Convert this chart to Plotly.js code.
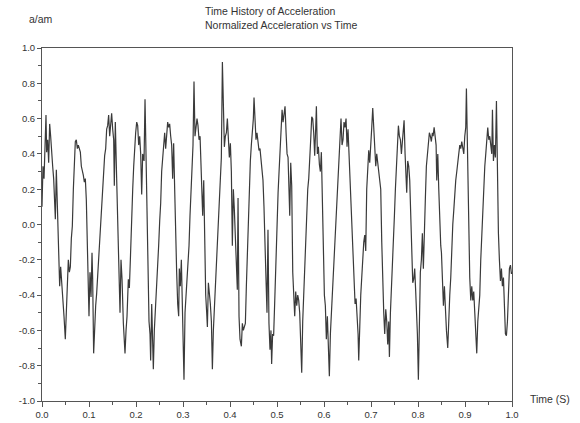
<!DOCTYPE html>
<html>
<head>
<meta charset="utf-8">
<script src="https://cdn.plot.ly/plotly-3.0.1.min.js"></script>
<style>html,body{margin:0;padding:0;background:#fff;}#chart{width:580px;height:423px;}</style>
</head>
<body>
<div id="chart"></div>
<script>
// Time (s) and normalized acceleration a/am in six stretches
const t1 = [0.0000,0.0021,0.0043,0.0064,0.0085,0.0099,0.0121,0.0142,0.0163,0.0184,0.0206,0.0227,0.0248,0.0270,0.0284,0.0305,0.0330,0.0355,0.0376,0.0397,0.0418,0.0440,0.0468,0.0496,0.0518,0.0539,0.0560,0.0582,0.0603,0.0624,0.0645,0.0667,0.0688,0.0709,0.0730,0.0752,0.0773,0.0794,0.0816,0.0837,0.0858,0.0879,0.0901,0.0922,0.0943,0.0965,0.0986,0.1000,0.1021,0.1043,0.1064,0.1078,0.1099,0.1121,0.1142,0.1163,0.1184,0.1206,0.1227,0.1248,0.1270,0.1291,0.1312,0.1333,0.1355,0.1376,0.1397,0.1418,0.1440,0.1461,0.1482,0.1504,0.1525,0.1539,0.1560,0.1582,0.1603,0.1624,0.1645];
const a1 = [0.10,0.33,0.26,0.48,0.62,0.41,0.48,0.35,0.57,0.50,0.39,0.33,0.26,0.11,0.03,0.31,0.03,-0.24,-0.35,-0.24,-0.31,-0.43,-0.52,-0.65,-0.46,-0.31,-0.20,-0.27,-0.24,-0.08,-0.01,0.20,0.33,0.47,0.48,0.43,0.45,0.43,0.41,0.33,0.31,0.28,0.24,0.26,0.14,-0.08,-0.31,-0.52,-0.27,-0.41,-0.16,-0.31,-0.73,-0.56,-0.46,-0.39,-0.29,-0.24,-0.12,-0.03,0.12,0.20,0.33,0.39,0.43,0.54,0.56,0.62,0.50,0.57,0.63,0.54,0.48,0.22,0.58,0.33,0.11,-0.12,-0.27];

const t2 = [0.1660,0.1681,0.1703,0.1731,0.1766,0.1788,0.1809,0.1837,0.1859,0.1880,0.1908,0.1930,0.1951,0.1972,0.1993,0.2015,0.2036,0.2057,0.2078,0.2100,0.2121,0.2142,0.2171,0.2192,0.2213,0.2234,0.2256,0.2277,0.2298,0.2312,0.2334,0.2355,0.2369,0.2390,0.2411,0.2440,0.2461,0.2482,0.2504,0.2525,0.2546,0.2567,0.2589,0.2610,0.2631,0.2653,0.2674,0.2695,0.2716,0.2738,0.2759,0.2780,0.2801,0.2823,0.2844,0.2865,0.2887,0.2908,0.2922,0.2943,0.2965,0.2986,0.3007,0.3021,0.3043,0.3064,0.3085,0.3106,0.3128,0.3149,0.3170,0.3191,0.3213,0.3234,0.3255,0.3277,0.3298,0.3319];
const a2 = [-0.50,-0.20,-0.31,-0.56,-0.73,-0.60,-0.52,-0.31,-0.36,-0.20,0.10,0.20,0.33,0.44,0.52,0.58,0.56,0.45,0.50,0.40,0.17,0.40,0.36,0.71,0.37,-0.10,-0.33,-0.55,-0.62,-0.77,-0.45,-0.62,-0.82,-0.60,-0.50,-0.33,-0.25,-0.12,0.02,0.12,0.30,0.37,0.48,0.52,0.43,0.54,0.58,0.55,0.57,0.50,0.45,0.26,0.46,0.20,-0.10,-0.27,-0.45,-0.52,-0.25,-0.35,-0.20,-0.50,-0.70,-0.88,-0.50,-0.40,-0.32,-0.25,-0.12,0.05,0.20,0.33,0.45,0.81,0.50,0.55,0.60,0.56];

const t3 = [0.3341,0.3363,0.3384,0.3405,0.3419,0.3441,0.3462,0.3483,0.3504,0.3519,0.3540,0.3561,0.3582,0.3604,0.3625,0.3646,0.3667,0.3689,0.3710,0.3731,0.3753,0.3774,0.3795,0.3816,0.3838,0.3859,0.3880,0.3901,0.3923,0.3944,0.3965,0.3986,0.4008,0.4029,0.4050,0.4071,0.4093,0.4114,0.4135,0.4156,0.4171,0.4192,0.4213,0.4242,0.4263,0.4284,0.4305,0.4327,0.4348,0.4369,0.4390,0.4412,0.4433,0.4454,0.4475,0.4497,0.4511,0.4532,0.4553,0.4574,0.4596,0.4617,0.4638,0.4659,0.4681,0.4702,0.4723,0.4744,0.4766,0.4787,0.4808,0.4829,0.4851,0.4872,0.4886,0.4907,0.4928,0.4950,0.4971];
const a3 = [0.48,0.50,0.35,0.22,0.05,0.25,-0.24,-0.40,-0.50,-0.58,-0.33,-0.38,-0.45,-0.55,-0.82,-0.60,-0.48,-0.33,-0.20,-0.08,-0.02,0.10,0.22,0.38,0.92,0.67,0.44,0.50,0.52,0.60,0.48,0.38,0.46,0.30,-0.12,0.20,0.08,-0.05,-0.16,-0.37,0.15,-0.52,-0.65,-0.69,-0.56,-0.60,-0.58,-0.56,-0.35,-0.15,0.05,0.28,0.36,0.45,0.52,0.60,0.72,0.55,0.48,0.52,0.45,0.42,0.43,0.38,0.30,0.25,0.10,-0.05,-0.31,-0.50,-0.03,-0.56,-0.71,-0.60,-0.79,-0.62,-0.63,-0.45,-0.27];

const t4 = [0.4980,0.5001,0.5023,0.5044,0.5065,0.5086,0.5108,0.5129,0.5150,0.5171,0.5193,0.5214,0.5235,0.5257,0.5271,0.5292,0.5313,0.5335,0.5356,0.5377,0.5398,0.5420,0.5441,0.5462,0.5483,0.5505,0.5526,0.5547,0.5568,0.5590,0.5611,0.5632,0.5654,0.5675,0.5696,0.5717,0.5739,0.5760,0.5781,0.5802,0.5824,0.5838,0.5859,0.5880,0.5902,0.5923,0.5944,0.5965,0.5987,0.6008,0.6029,0.6050,0.6072,0.6093,0.6114,0.6136,0.6157,0.6178,0.6199,0.6221,0.6242,0.6263,0.6284,0.6306,0.6327,0.6348,0.6362,0.6384,0.6405,0.6426,0.6447,0.6469,0.6490,0.6511,0.6532,0.6554,0.6575,0.6596,0.6617,0.6639];
const a4 = [-0.10,0.00,0.18,0.30,0.40,0.48,0.65,0.58,0.62,0.67,0.52,0.40,0.38,0.18,0.05,0.35,0.22,-0.27,-0.40,-0.52,-0.38,-0.46,-0.40,-0.43,-0.50,-0.69,-0.84,-0.55,-0.40,-0.18,-0.05,0.08,0.20,0.26,0.35,0.48,0.61,0.60,0.52,0.39,0.55,0.67,0.40,0.44,0.34,0.30,0.41,0.10,-0.20,-0.40,-0.46,-0.65,-0.52,-0.65,-0.86,-0.62,-0.50,-0.42,-0.28,-0.12,0.00,0.12,0.24,0.32,0.43,0.52,0.60,0.45,0.48,0.58,0.55,0.60,0.44,0.54,0.40,0.33,0.10,-0.05,-0.20,-0.33];

const t5 = [0.6661,0.6683,0.6704,0.6725,0.6739,0.6761,0.6782,0.6803,0.6824,0.6846,0.6867,0.6888,0.6909,0.6931,0.6952,0.6973,0.6995,0.7016,0.7037,0.7058,0.7080,0.7101,0.7122,0.7143,0.7165,0.7186,0.7207,0.7229,0.7250,0.7271,0.7292,0.7314,0.7335,0.7356,0.7377,0.7392,0.7413,0.7434,0.7455,0.7477,0.7498,0.7519,0.7540,0.7562,0.7583,0.7604,0.7626,0.7647,0.7668,0.7689,0.7704,0.7725,0.7746,0.7760,0.7781,0.7803,0.7824,0.7845,0.7866,0.7888,0.7909,0.7930,0.7951,0.7973,0.7987,0.8008,0.8029,0.8050,0.8072,0.8093,0.8114,0.8135,0.8157,0.8178,0.8199,0.8220,0.8242,0.8263,0.8284,0.8306];
const a5 = [-0.45,-0.42,-0.50,-0.62,-0.77,-0.55,-0.40,-0.30,-0.18,-0.10,-0.06,-0.15,0.20,0.36,0.42,0.35,0.50,0.55,0.66,0.52,0.45,0.33,0.40,0.35,0.30,0.26,0.20,-0.10,-0.35,-0.50,-0.62,-0.48,-0.55,-0.68,-0.55,-0.75,-0.50,-0.38,-0.25,-0.10,0.05,0.20,0.33,0.48,0.56,0.50,0.48,0.40,0.46,0.55,0.59,0.40,0.30,0.18,0.36,0.33,0.25,0.00,-0.25,-0.33,-0.31,-0.25,-0.38,-0.52,-0.62,-0.88,-0.50,-0.27,-0.20,-0.05,-0.25,-0.10,0.15,0.33,0.40,0.45,0.52,0.50,0.47,0.52];

const t6 = [0.8321,0.8343,0.8364,0.8385,0.8399,0.8421,0.8442,0.8463,0.8484,0.8499,0.8520,0.8541,0.8562,0.8584,0.8605,0.8633,0.8655,0.8676,0.8697,0.8718,0.8740,0.8761,0.8782,0.8803,0.8825,0.8846,0.8867,0.8889,0.8910,0.8931,0.8952,0.8974,0.8995,0.9016,0.9030,0.9052,0.9066,0.9080,0.9101,0.9123,0.9144,0.9165,0.9186,0.9208,0.9229,0.9250,0.9272,0.9293,0.9314,0.9335,0.9357,0.9378,0.9399,0.9421,0.9442,0.9463,0.9484,0.9506,0.9527,0.9548,0.9570,0.9584,0.9605,0.9626,0.9647,0.9669,0.9690,0.9711,0.9732,0.9754,0.9775,0.9796,0.9818,0.9839,0.9860,0.9881,0.9903,0.9924,0.9945,0.9967,0.9988,1.0000];
const a6 = [0.50,0.55,0.48,0.45,0.25,0.40,0.20,0.00,-0.12,-0.16,-0.35,-0.46,-0.35,-0.50,-0.60,-0.70,-0.50,-0.40,-0.30,-0.12,0.00,0.08,0.18,0.25,0.30,0.38,0.40,0.45,0.43,0.47,0.42,0.40,0.50,0.55,0.77,0.48,0.20,-0.10,-0.30,-0.43,-0.35,-0.43,-0.38,-0.50,-0.60,-0.73,-0.55,-0.45,-0.40,-0.20,-0.05,0.05,0.20,0.33,0.40,0.50,0.55,0.48,0.50,0.45,0.40,0.65,0.36,0.45,0.38,0.70,0.28,-0.05,-0.20,-0.32,-0.25,-0.35,-0.30,-0.45,-0.62,-0.63,-0.55,-0.40,-0.25,-0.23,-0.28,-0.27];

const yTickVals = [-1.0,-0.8,-0.6,-0.4,-0.2,0.0,0.2,0.4,0.6,0.8,1.0];
const yTickText = ["-1.0","-0.8","-0.6","-0.4","-0.2","0.0","0.2","0.4","0.6","0.8","1.0"];
const xTickVals = [0.0,0.1,0.2,0.3,0.4,0.5,0.6,0.7,0.8,0.9,1.0];
const xTickText = ["0.0","0.1","0.2","0.3","0.4","0.5","0.6","0.7","0.8","0.9","1.0"];

const time = [].concat(t1,t2,t3,t4,t5,t6);
const accel = [].concat(a1,a2,a3,a4,a5,a6);

const font = {family: "Liberation Sans, Arial, sans-serif", size: 9.5, color: "#333"};
const titleFont = {family: "Liberation Sans, Arial, sans-serif", size: 10.5, color: "#333"};

const trace = {
  x: time, y: accel, type: "scatter", mode: "lines",
  line: {color: "#3a3a3a", width: 1.2}, hoverinfo: "skip"
};

const axisCommon = {
  showline: true, linecolor: "#555", linewidth: 1, mirror: true,
  showgrid: false, zeroline: false, ticks: "outside", ticklen: 5,
  tickcolor: "#555", tickwidth: 1, tickfont: font, tickmode: "array"
};

const layout = {
  width: 580, height: 423,
  margin: {l: 42, r: 68, t: 48, b: 22, pad: 0},
  paper_bgcolor: "#fff", plot_bgcolor: "#fff",
  showlegend: false, font: font,
  xaxis: Object.assign({}, axisCommon, {
    range: [0, 1], tickvals: xTickVals, ticktext: xTickText,
    minor: {tickmode: "linear", tick0: 0, dtick: 0.05, ticks: "outside", ticklen: 3, tickcolor: "#555", showgrid: false}
  }),
  yaxis: Object.assign({}, axisCommon, {
    range: [-1, 1], tickvals: yTickVals, ticktext: yTickText, ticklen: 4,
    minor: {tickmode: "linear", tick0: 0, dtick: 0.1, ticks: "outside", ticklen: 3, tickcolor: "#555", showgrid: false}
  }),
  annotations: [
    {text: "Time History of Acceleration<br>Normalized Acceleration vs Time", xref: "paper", yref: "paper",
     x: (203 - 42) / 470, y: 1, yshift: 45, xanchor: "left", yanchor: "top", align: "left", showarrow: false, font: titleFont},
    {text: "a/am", xref: "paper", yref: "paper", x: -15 / 470, y: 1, yshift: 29, xanchor: "left", yanchor: "middle",
     showarrow: false, font: titleFont},
    {text: "Time (S)", xref: "paper", yref: "paper", x: 1, xshift: 16, y: 0, yshift: 2, xanchor: "left", yanchor: "middle",
     showarrow: false, font: titleFont}
  ]
};

Plotly.newPlot("chart", [trace], layout, {displayModeBar: false, staticPlot: true});
</script>
</body>
</html>
